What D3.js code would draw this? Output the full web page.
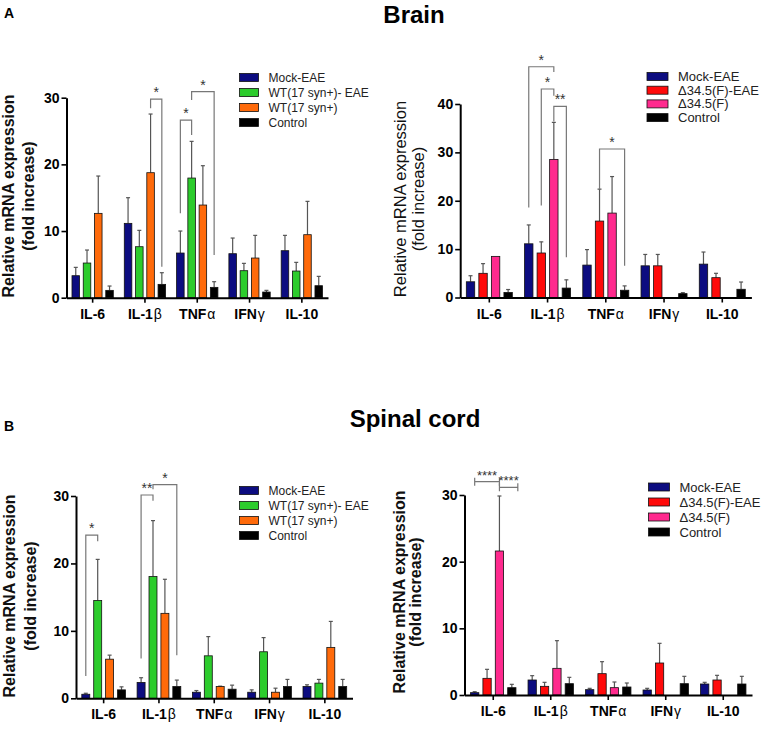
<!DOCTYPE html>
<html><head><meta charset="utf-8">
<script src="https://cdn.jsdelivr.net/npm/d3@7"></script>
<style>body{margin:0;background:#fff} svg{display:block} text{font-family:"Liberation Sans",Arial,sans-serif}</style>
</head><body><svg id="c" width="767" height="744"></svg>
<script>
// ---------- data ----------
const categories = ["IL-6", "IL-1β", "TNFα", "IFNγ", "IL-10"];
const wtSeries = ["Mock-EAE", "WT(17 syn+)- EAE", "WT(17 syn+)", "Control"];
const dSeries = ["Mock-EAE", "Δ34.5(F)-EAE", "Δ34.5(F)", "Control"];
const wtColors = ["#0c0c80", "#2ccc2c", "#ff6a0a", "#000000"];
const dColors = ["#0c0c80", "#ff0a0a", "#ff2a8e", "#000000"];
const ticks30 = [0, 10, 20, 30];
const ticks40 = [0, 10, 20, 30, 40];

// Brain, WT(17 syn+) panel: bar means and error-bar tops
const brainWT_mock = [3.3, 11.15, 6.7, 6.6, 7.05];
const brainWT_mockTop = [4.55, 15.0, 10.0, 8.95, 9.35];
const brainWT_wtEAE = [5.2, 7.65, 17.95, 4.05, 4.0];
const brainWT_wtEAETop = [7.15, 10.1, 23.45, 5.15, 5.3];
const brainWT_wt = [12.65, 18.75, 13.9, 5.95, 9.45];
const brainWT_wtTop = [18.25, 27.55, 19.8, 9.35, 14.45];
const brainWT_ctrl = [1.1, 2.0, 1.55, 0.85, 1.8];
const brainWT_ctrlTop = [1.75, 3.75, 2.4, 1.1, 3.2];

// Brain, Δ34.5(F) panel
const brainD_mock = [3.25, 11.1, 6.7, 6.55, 6.9];
const brainD_mockTop = [4.5, 15.0, 9.9, 8.9, 9.4];
const brainD_dEAE = [5.0, 9.2, 15.8, 6.55, 4.1];
const brainD_dEAETop = [7.0, 11.5, 22.4, 8.9, 5.0];
const brainD_d = [8.5, 28.55, 17.45, 0, 0];
const brainD_dTop = [8.5, 36.2, 25.0, 0, 0];
const brainD_ctrl = [1.05, 1.95, 1.5, 0.8, 1.7];
const brainD_ctrlTop = [1.65, 3.65, 2.4, 1.0, 3.2];

// Spinal cord, WT(17 syn+) panel
const spinalWT_mock = [0.6, 2.35, 0.9, 0.9, 1.75];
const spinalWT_mockTop = [0.75, 3.05, 1.15, 1.25, 2.0];
const spinalWT_wtEAE = [14.5, 18.05, 6.3, 6.9, 2.25];
const spinalWT_wtEAETop = [20.6, 26.35, 9.15, 9.0, 2.8];
const spinalWT_wt = [5.8, 12.6, 1.75, 0.9, 7.55];
const spinalWT_wtTop = [6.4, 17.65, 1.8, 1.5, 11.4];
const spinalWT_ctrl = [1.25, 1.75, 1.35, 1.75, 1.75];
const spinalWT_ctrlTop = [1.7, 2.7, 1.95, 2.8, 2.8];

// Spinal cord, Δ34.5(F) panel
const spinalD_mock = [0.35, 2.25, 0.8, 0.75, 1.65];
const spinalD_mockTop = [0.5, 2.9, 1.0, 1.0, 1.9];
const spinalD_dEAE = [2.5, 1.3, 3.2, 4.8, 2.25];
const spinalD_dEAETop = [3.85, 1.9, 5.0, 7.75, 2.95];
const spinalD_d = [21.6, 4.0, 1.1, 0, 0];
const spinalD_dTop = [29.85, 8.15, 1.95, 0, 0];
const spinalD_ctrl = [1.1, 1.7, 1.2, 1.7, 1.65];
const spinalD_ctrlTop = [1.6, 2.65, 1.8, 2.8, 2.8];

// significance brackets: category, from series, to series, top, left leg low, right leg low, label
const brainWT_brackets = [
  ["IL-1β", 2, 3, 29.8, 28.4, 4.65, "*"],
  ["TNFα", 0, 1, 26.65, 12.65, 24.4, "*"],
  ["TNFα", 1, 3, 30.9, 29.65, 6.4, "*"]
];
const brainD_brackets = [
  ["IL-1β", 0, 2, 47.7, 18.6, 46.6, "*"],
  ["IL-1β", 1, 2, 43.1, 19.0, 41.7, "*"],
  ["IL-1β", 2, 3, 39.5, 36.4, 8.3, "**"],
  ["TNFα", 1, 3, 30.7, 22.4, 6.55, "*"]
];
const spinalWT_brackets = [
  ["IL-6", 0, 1, 24.2, 3.3, 23.3, "*"],
  ["IL-1β", 0, 1, 30.15, 5.9, 29.3, "**"],
  ["IL-1β", 1, 3, 31.7, 31.0, 6.4, "*"]
];
// horizontal brackets with end ticks: category, from, to, level, label
const spinalD_brackets = [
  ["IL-6", 0, 2, 32.0, "****"],
  ["IL-6", 2, 3, 31.15, "****"]
];

// ---------- drawing ----------
const svg = d3.select("#c");
const FONT = '"Liberation Sans", Arial, sans-serif';

function drawPanel(cfg) {
  const g = svg.append("g");
  const x0 = d3.scaleBand().domain(categories).range([cfg.xl, cfg.xr]).paddingInner(0.21).paddingOuter(0.105);
  const x1 = d3.scaleBand().domain(d3.range(4)).range([0, x0.bandwidth()]).paddingInner(0.33).paddingOuter(0);
  const y = d3.scaleLinear().domain([0, cfg.yMax]).range([cfg.yb, cfg.yt]);
  const cx = (cat, s) => x0(cat) + x1(s) + x1.bandwidth() / 2;

  // bars + error bars
  cfg.values.forEach((vals, s) => {
    vals.forEach((v, i) => {
      if (v <= 0) return;
      const cat = categories[i];
      const top = cfg.tops[s][i];
      const mx = cx(cat, s);
      if (top > v) {
        g.append("line").attr("x1", mx).attr("x2", mx).attr("y1", y(v)).attr("y2", y(top))
          .attr("stroke", "#555").attr("stroke-width", 1.2);
        g.append("line").attr("x1", mx - 2).attr("x2", mx + 2).attr("y1", y(top)).attr("y2", y(top))
          .attr("stroke", "#555").attr("stroke-width", 1.2);
      }
      g.append("rect").attr("x", x0(cat) + x1(s)).attr("y", y(v))
        .attr("width", x1.bandwidth()).attr("height", y(0) - y(v))
        .attr("fill", cfg.colors[s]).attr("stroke", "#111").attr("stroke-width", 0.8);
    });
  });

  // brackets
  const bc = "#777";
  if (cfg.brackets) cfg.brackets.forEach(b => {
    const [cat, a, c, top, lowL, lowR, lab] = b;
    const xa = cx(cat, a), xc = cx(cat, c);
    g.append("path").attr("d", `M${xa},${y(lowL)}V${y(top)}H${xc}V${y(lowR)}`)
      .attr("fill", "none").attr("stroke", bc).attr("stroke-width", 1.2);
    g.append("text").attr("x", (xa + xc) / 2).attr("y", y(top) - 2).attr("text-anchor", "middle")
      .attr("font-size", 14).attr("fill", "#333").text(lab);
  });
  if (cfg.hbrackets) cfg.hbrackets.forEach((b, k) => {
    const [cat, a, c, lev, lab] = b;
    const xa = cx(cat, a), xc = cx(cat, c) + (k === 1 ? 6 : 0);
    const yy = y(lev);
    g.append("path").attr("d", `M${xa},${yy - 4}V${yy + 4}M${xa},${yy}H${xc}M${xc},${yy - 4}V${yy + 4}`)
      .attr("fill", "none").attr("stroke", bc).attr("stroke-width", 1.2);
    g.append("text").attr("x", (xa + xc) / 2).attr("y", yy - 2).attr("text-anchor", "middle")
      .attr("font-size", 13).attr("fill", "#333").text(lab);
  });

  // axes
  const ya = g.append("g").attr("transform", `translate(${cfg.xl},0)`)
    .call(d3.axisLeft(y).tickValues(cfg.ticks).tickSize(5).tickSizeOuter(0).tickPadding(2).tickFormat(d3.format("d")));
  ya.select(".domain").attr("stroke", "#000").attr("stroke-width", 2);
  ya.selectAll(".tick line").attr("stroke", "#000").attr("stroke-width", 1.6);
  ya.selectAll(".tick text").attr("font-family", FONT).attr("font-size", 14).attr("font-weight", "bold").attr("fill", "#000");

  const xa = g.append("g").attr("transform", `translate(0,${cfg.yb})`)
    .call(d3.axisBottom(x0).tickSize(5).tickSizeOuter(0).tickFormat(""));
  xa.select(".domain").attr("stroke", "#000").attr("stroke-width", 2);
  xa.selectAll(".tick line").attr("stroke", "#000").attr("stroke-width", 1.6);

  // category labels (greek letter in lighter weight)
  categories.forEach(cat => {
    const m = cat.match(/^(.*?)([α-ω]?)$/);
    const t = g.append("text")
      .attr("x", x0(cat) + x0.bandwidth() / 2).attr("y", cfg.yb + 21)
      .attr("text-anchor", "middle").attr("font-size", 14).attr("font-weight", "bold").attr("fill", "#000");
    t.append("tspan").text(m[1]);
    if (m[2]) t.append("tspan").attr("font-weight", "normal").attr("dx", 1).text(m[2]);
  });

  // y label
  g.append("text").attr("transform", `translate(${cfg.ylX1},${cfg.ylCy}) rotate(-90)`)
    .attr("text-anchor", "middle").attr("font-size", cfg.ylSize).attr("font-weight", cfg.ylBold ? "bold" : "normal").attr("fill", "#111")
    .text("Relative mRNA expression");
  g.append("text").attr("transform", `translate(${cfg.ylX2},${cfg.ylCy}) rotate(-90)`)
    .attr("text-anchor", "middle").attr("font-size", cfg.ylSize).attr("font-weight", cfg.ylBold ? "bold" : "normal").attr("fill", "#111")
    .text("(fold increase)");

  // legend
  const lg = g.append("g");
  cfg.series.forEach((s, i) => {
    const ly = cfg.lgY + i * cfg.lgDy;
    lg.append("rect").attr("x", cfg.lgX).attr("y", ly - 4).attr("width", cfg.lgW).attr("height", 8)
      .attr("fill", cfg.colors[i]).attr("stroke", "#111").attr("stroke-width", 0.8);
    lg.append("text").attr("x", cfg.lgX + cfg.lgW + 10).attr("y", ly).attr("dy", "0.35em")
      .attr("font-size", cfg.lgSize).attr("fill", "#222").text(s);
  });
}

drawPanel({
  xl: 66.5, xr: 328, yb: 297.7, yt: 97.7, yMax: 30, ticks: ticks30,
  series: wtSeries, colors: wtColors,
  values: [brainWT_mock, brainWT_wtEAE, brainWT_wt, brainWT_ctrl],
  tops: [brainWT_mockTop, brainWT_wtEAETop, brainWT_wtTop, brainWT_ctrlTop],
  brackets: brainWT_brackets,
  ylX1: 14, ylX2: 34, ylCy: 196, ylSize: 16, ylBold: true,
  lgX: 239.5, lgY: 77.5, lgDy: 15, lgW: 19, lgSize: 12
});
drawPanel({
  xl: 460.2, xr: 751.4, yb: 297.5, yt: 104, yMax: 40, ticks: ticks40,
  series: dSeries, colors: dColors,
  values: [brainD_mock, brainD_dEAE, brainD_d, brainD_ctrl],
  tops: [brainD_mockTop, brainD_dEAETop, brainD_dTop, brainD_ctrlTop],
  brackets: brainD_brackets,
  ylX1: 406, ylX2: 424, ylCy: 199, ylSize: 16.5, ylBold: false,
  lgX: 647, lgY: 76.5, lgDy: 13.7, lgW: 21, lgSize: 13
});
drawPanel({
  xl: 76, xr: 352.5, yb: 698.3, yt: 496, yMax: 30, ticks: ticks30,
  series: wtSeries, colors: wtColors,
  values: [spinalWT_mock, spinalWT_wtEAE, spinalWT_wt, spinalWT_ctrl],
  tops: [spinalWT_mockTop, spinalWT_wtEAETop, spinalWT_wtTop, spinalWT_ctrlTop],
  brackets: spinalWT_brackets,
  ylX1: 15, ylX2: 36, ylCy: 596, ylSize: 16, ylBold: true,
  lgX: 239.5, lgY: 490.5, lgDy: 15, lgW: 19, lgSize: 12
});
drawPanel({
  xl: 464.5, xr: 752, yb: 695, yt: 495, yMax: 30, ticks: ticks30,
  series: dSeries, colors: dColors,
  values: [spinalD_mock, spinalD_dEAE, spinalD_d, spinalD_ctrl],
  tops: [spinalD_mockTop, spinalD_dEAETop, spinalD_dTop, spinalD_ctrlTop],
  hbrackets: spinalD_brackets,
  ylX1: 405, ylX2: 421, ylCy: 592, ylSize: 16, ylBold: true,
  lgX: 648.5, lgY: 487, lgDy: 15, lgW: 21, lgSize: 13
});

// titles
svg.append("text").attr("x", 414).attr("y", 23).attr("text-anchor", "middle").attr("font-size", 24).attr("font-weight", "bold").text("Brain");
svg.append("text").attr("x", 415).attr("y", 427).attr("text-anchor", "middle").attr("font-size", 24).attr("font-weight", "bold").text("Spinal cord");
svg.append("text").attr("x", 4).attr("y", 18).attr("font-size", 14).attr("font-weight", "bold").text("A");
svg.append("text").attr("x", 4).attr("y", 431).attr("font-size", 14).attr("font-weight", "bold").text("B");
</script></body></html>
